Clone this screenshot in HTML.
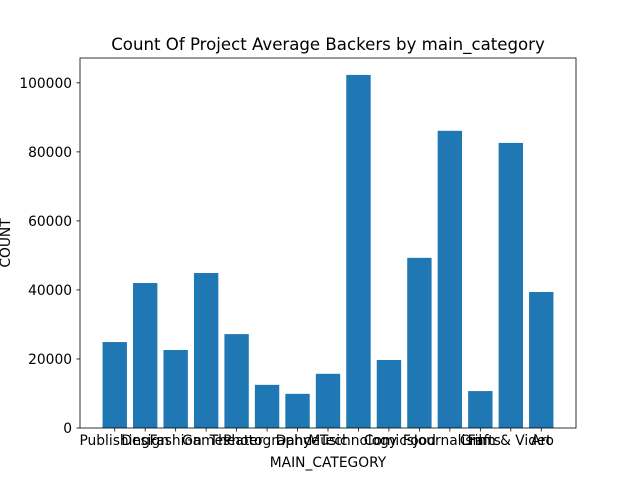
<!DOCTYPE html>
<html><head><meta charset="utf-8"><style>body{margin:0;background:#fff}svg{display:block;font-family:"DejaVu Sans","Liberation Sans",sans-serif}</style></head>
<body>
<svg id="chart" width="640" height="480"></svg>
<script>
const categories=["Publishing","Design","Fashion","Games","Theater","Photography","Dance","Music","Technology","Comics","Food","Journalism","Crafts","Film & Video","Art"];
const values=[24900,42000,22600,44900,27200,12500,9900,15700,102300,19700,49300,86100,10700,82600,39400];
const yTicks=[0,20000,40000,60000,80000,100000];
const L=80,R=576,T=58,B=428,yMax=107200,xMin=-1.14,xMax=categories.length-1+1.14;
const ns="http://www.w3.org/2000/svg",svg=document.getElementById("chart");
const xs=v=>L+(v-xMin)/(xMax-xMin)*(R-L);
const ys=v=>B-v/yMax*(B-T);
function mk(t,a,txt){const e=document.createElementNS(ns,t);for(const k in a)e.setAttribute(k,a[k]);if(txt!==undefined)e.textContent=txt;svg.appendChild(e);return e;}
const bw=xs(0.8)-xs(0);
values.forEach((v,i)=>{
 const r=mk("rect",{x:xs(i)-bw/2,y:ys(v),width:bw,height:B-ys(v),fill:"#1f77b4"});
 
 
 const tk=mk("line",{x1:xs(i),x2:xs(i),y1:B,y2:B+3.5,stroke:"#000","stroke-width":0.8});
 
 
 const t=mk("text",{x:xs(i),y:B+17,"text-anchor":"middle","font-size":"13.8"},categories[i]);
 
 
});
yTicks.forEach(v=>{
 const tk=mk("line",{x1:L-3.5,x2:L,y1:ys(v),y2:ys(v),stroke:"#000","stroke-width":0.8});
 
 
 const t=mk("text",{x:L-8,y:ys(v)+5,"text-anchor":"end","font-size":"13.8"},String(v));
 
 
});
const f=mk("rect",{x:L,y:T,width:R-L,height:B-T,fill:"none",stroke:"#000","stroke-width":0.8});


const ti=mk("text",{x:(L+R)/2,y:50,"text-anchor":"middle","font-size":"16.6"},"Count Of Project Average Backers by main_category");


const xt=mk("text",{x:(L+R)/2,y:467,"text-anchor":"middle","font-size":"13.8"},"MAIN_CATEGORY");


const yt=mk("text",{x:0,y:0,"text-anchor":"middle","font-size":"13.8","transform":"translate(10,243) rotate(-90)"},"COUNT");


</script>
</body></html>
